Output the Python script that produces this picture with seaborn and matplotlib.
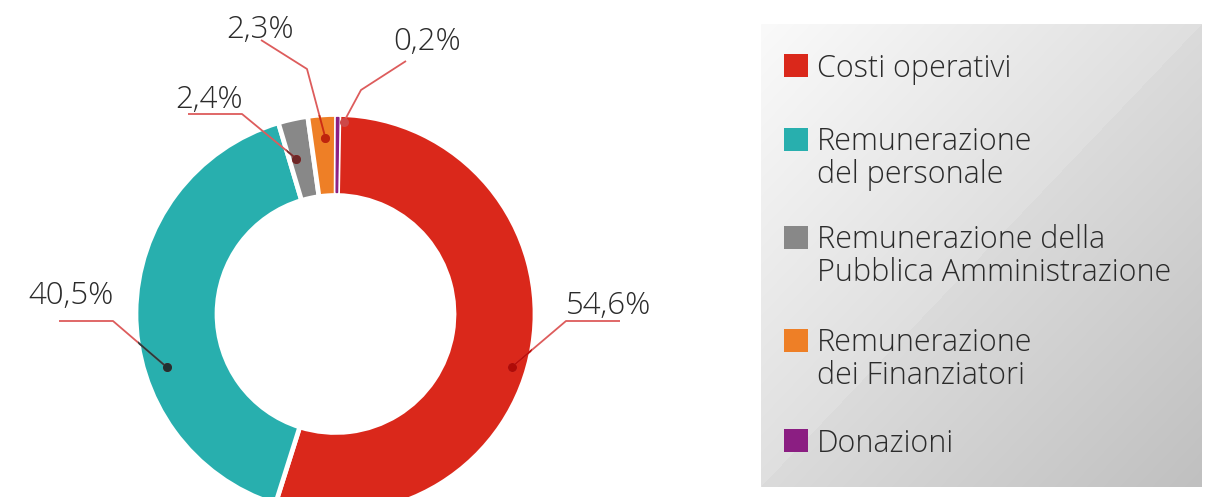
import numpy as np
import matplotlib
matplotlib.use("Agg")
import matplotlib.pyplot as plt
import matplotlib.colors as mcolors
from matplotlib.patches import Rectangle
import seaborn as sns

# Dati
categories = [
    "Costi operativi",
    "Remunerazione\ndel personale",
    "Remunerazione della\nPubblica Amministrazione",
    "Remunerazione\ndei Finanziatori",
    "Donazioni",
]
shares = [54.6, 40.5, 2.4, 2.3, 0.2]
pct_labels = ["54,6%", "40,5%", "2,4%", "2,3%", "0,2%"]
colors = ["#da281b", "#28afae", "#888888", "#ee7f26", "#8b1e82"]

W, H = 1207, 497


def Y(ypx):
    # pixel dall'alto -> coordinate dati dal basso
    return H - ypx


sns.set_theme(style="white")
plt.rcParams["font.family"] = ["Open Sans Light", "Open Sans", "DejaVu Sans"]
TXT = "#2b2b2b"
LINE = np.array([221, 92, 92]) / 255
DOT = np.array([205, 72, 72]) / 255

fig = plt.figure(figsize=(W / 100, H / 100), dpi=100)
ax = fig.add_axes([0, 0, 1, 1])

# Ciambella
START = 89
R, RW, GAP = 199.5, 81, 3.4
cx, cy = 335.5, Y(314)
wedges, _ = ax.pie(
    shares, colors=colors, startangle=START, counterclock=False,
    center=(cx, cy), radius=R,
    wedgeprops=dict(width=RW, edgecolor="white", linewidth=GAP),
)
# la fetta piccolissima resta visibile: bordo del suo colore, raggi ridotti
half = GAP / 72 * 100 / 2
pw = 0.9
ph = pw / 72 * 100 / 2
wedges[-1].set_edgecolor(colors[-1])
wedges[-1].set_linewidth(pw)
wedges[-1].set_radius(R - half - ph)
wedges[-1].set_width(RW - 2 * half - 2 * ph)

# Etichette con linee guida (layout in pixel)
cum = np.cumsum(shares)
mid = START - 3.6 * (cum - np.array(shares) / 2)
dot_shift = [-7.5, 17.9, 1.8, -0.6, -1.8]
dot_r = [184, 177, 160, 176, 192]
elbows = [[(566, 321), (620, 321)],
          [(113, 321), (59, 321)],
          [(242, 114), (188, 114)],
          [(307, 69), (261, 40)],
          [(361, 90), (406, 61)]]
label_pos = [(609, 314), (71, 304), (209, 108), (260, 38), (427, 50)]

for i, w in enumerate(wedges):
    a = np.deg2rad(mid[i] + dot_shift[i])
    dx = cx + dot_r[i] * np.cos(a)
    dy = cy + dot_r[i] * np.sin(a)
    xs = [dx] + [p[0] for p in elbows[i]]
    ys = [dy] + [Y(p[1]) for p in elbows[i]]
    wc = np.array(mcolors.to_rgb(colors[i]))
    ax.plot(xs, ys, color=LINE, lw=1.3, solid_capstyle="butt", zorder=3)
    seg, = ax.plot(xs, ys, color=LINE * wc, lw=1.3, solid_capstyle="butt", zorder=4)
    seg.set_clip_path(w)
    ax.plot([dx], [dy], "o", ms=6.5, mec="none", color=DOT, zorder=5)
    d2, = ax.plot([dx], [dy], "o", ms=6.5, mec="none", color=DOT * wc, zorder=6)
    d2.set_clip_path(w)
    lx, ly = label_pos[i]
    ax.text(lx, Y(ly), pct_labels[i], ha="center", va="baseline",
            fontsize=22.5, color=TXT, fontweight="light", zorder=7)

# Riquadro legenda con sfumatura
bx0, bx1, by0, by1 = 761, 1202, 24, 487
nx, ny = bx1 - bx0, by1 - by0
gx, gy = np.meshgrid(np.linspace(0, 1, nx), np.linspace(0, 1, ny))
t = (gx + gy) / 2
val = 250 - 54 * t - 4 * ((gx + gy) > 1.0)
img = np.repeat((val / 255)[:, :, None], 3, axis=2)
ax.imshow(img, extent=(bx0, bx1, Y(by1), Y(by0)), origin="upper",
          interpolation="bilinear", zorder=1)

legend_base = [77, 151, 249, 352, 452]
pitch = 32
for i, lab in enumerate(categories):
    b = legend_base[i]
    n = lab.count("\n")
    ax.add_patch(Rectangle((784, Y(b)), 24, 23, color=colors[i], lw=0, zorder=2))
    ax.text(817, Y(b + n * pitch), lab, ha="left", va="baseline", fontsize=22,
            color=TXT, fontweight="light", linespacing=1.05, zorder=3)

ax.set_xlim(0, W)
ax.set_ylim(0, H)
ax.set_aspect("equal")
ax.axis("off")

fig.savefig("out.png", dpi=100)
